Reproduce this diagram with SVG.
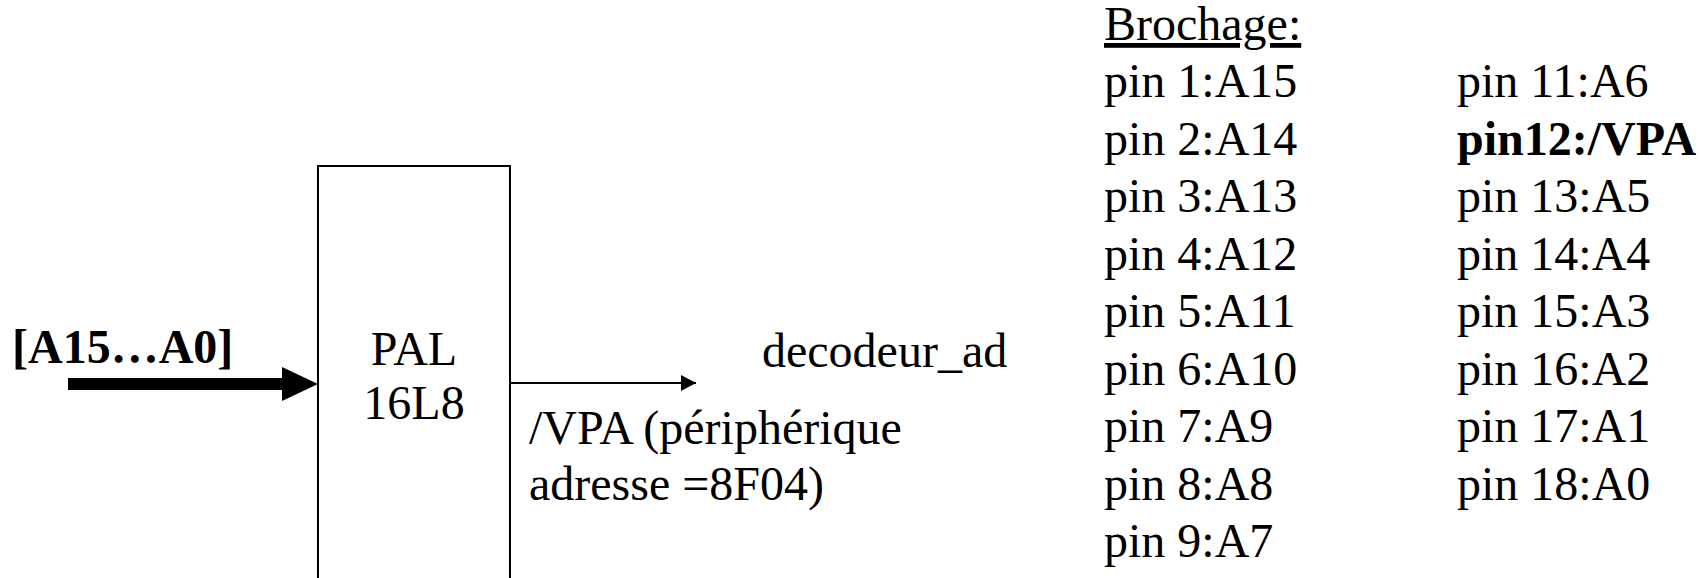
<svg xmlns="http://www.w3.org/2000/svg" width="1705" height="578" viewBox="0 0 1705 578">
<style>
text{font-family:"Liberation Serif","Times New Roman",serif;fill:#000;font-size:48px}
.p{text-anchor:middle}
.b{font-weight:bold}
.ln{stroke:#000;fill:none}
</style>
<defs>
<marker id="ah" markerWidth="15" markerHeight="16" refX="15" refY="8" orient="auto" markerUnits="userSpaceOnUse"><path d="M0,0 L15,8 L0,16 Z" fill="#000"/></marker>
</defs>
<rect width="1705" height="578" fill="#fff"/>
<g id="pal">
<path class="ln" d="M318,590 L318,166 L510,166 L510,590" stroke-width="2"/>
<text class="p" x="414" y="365">PAL</text>
<text class="p" x="414" y="419">16L8</text>
</g>
<g id="input-label">
<text class="b" x="12" y="363">[A15…A0]</text>
</g>
<g id="output-label">
<text x="762" y="367">decodeur_ad</text>
<text x="529" y="444">/VPA (périphérique</text>
<text x="529" y="500">adresse =8F04)</text>
</g>
<g id="pinout">
<text x="1104" y="40" text-decoration="underline">Brochage:</text>
<text x="1104" y="97">pin 1:A15</text>
<text x="1104" y="155">pin 2:A14</text>
<text x="1104" y="212">pin 3:A13</text>
<text x="1104" y="270">pin 4:A12</text>
<text x="1104" y="327">pin 5:A11</text>
<text x="1104" y="385">pin 6:A10</text>
<text x="1104" y="442">pin 7:A9</text>
<text x="1104" y="500">pin 8:A8</text>
<text x="1104" y="557">pin 9:A7</text>
<text x="1457" y="97">pin 11:A6</text>
<text class="b" x="1457" y="155">pin12:/VPA</text>
<text x="1457" y="212">pin 13:A5</text>
<text x="1457" y="270">pin 14:A4</text>
<text x="1457" y="327">pin 15:A3</text>
<text x="1457" y="385">pin 16:A2</text>
<text x="1457" y="442">pin 17:A1</text>
<text x="1457" y="500">pin 18:A0</text>
</g>
<g id="connectors">
<line x1="68" y1="384" x2="283" y2="384" stroke="#000" stroke-width="12"/>
<path d="M282,367 L318,384 L282,401 Z" fill="#000"/>
<line x1="510" y1="383" x2="696" y2="383" stroke="#000" stroke-width="2" marker-end="url(#ah)"/>
</g>
</svg>
